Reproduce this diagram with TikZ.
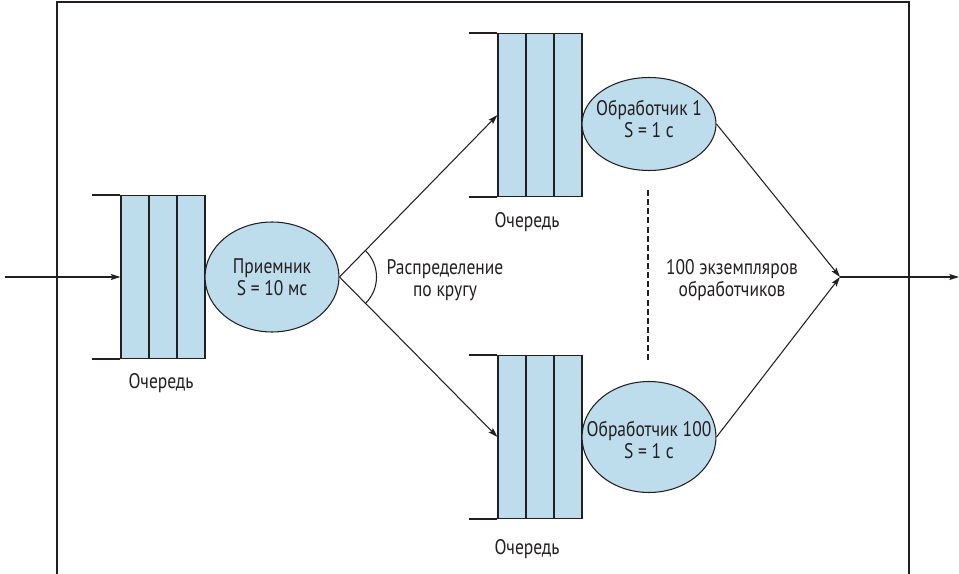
\documentclass[tikz,border=0pt]{standalone}
\usepackage{fontspec}
\setmainfont{PT Sans}[FakeStretch=0.83]
\usetikzlibrary{shapes.geometric,arrows.meta}
\definecolor{qblue}{RGB}{190,221,236}
\definecolor{ink}{RGB}{35,31,32}

\begin{document}
\begin{tikzpicture}[
    x=0.02cm, y=-0.02cm,
    color=ink, line width=0.6pt,
    cell/.style={rectangle, draw, fill=qblue, minimum width=0.56cm, minimum height=3.26cm, inner sep=0pt},
    worker/.style={ellipse, draw, fill=qblue, minimum width=2.68cm, inner sep=0pt},
    caption/.style={align=center, font=\fontsize{12}{12.8}\selectfont},
    arrow/.style={-{Stealth[length=5.5pt, width=3.4pt, inset=1pt]}}
]
\useasboundingbox (0,0) rectangle (959,574);

% Frame
\draw (57,574) |- (909,2) -- (909,574);

% Input queue and receiver
\node[cell] (q0a) at (135,277) {};
\node[cell] (q0b) at (163,277) {};
\node[cell] (q0c) at (191,277) {};
\draw (q0a.north west) -- ++(-28,0);
\draw (q0a.south west) -- ++(-28,0);
\node[caption] (q0lbl) at (161,383) {Очередь};

\node[worker, minimum height=2.2cm] (recv) at (272,277) {};
\node[caption] (recvtxt) at (recv) {Приемник\\S = 10 мс};

% Worker queues
\node[cell] (q1a) at (512,115) {};
\node[cell] (q1b) at (540,115) {};
\node[cell] (q1c) at (568,115) {};
\draw (q1a.north west) -- ++(-28,0);
\draw (q1a.south west) -- ++(-28,0);
\node[caption] (q1lbl) at (527,222) {Очередь};

\node[cell] (q2a) at (512,437) {};
\node[cell] (q2b) at (540,437) {};
\node[cell] (q2c) at (568,437) {};
\draw (q2a.north west) -- ++(-28,0);
\draw (q2a.south west) -- ++(-28,0);
\node[caption] (q2lbl) at (527,549) {Очередь};

% Workers
\node[worker, minimum height=1.86cm] (w1) at (649,124) {};
\node[caption] (w1txt) at (649,119) {Обработчик 1\\S = 1 с};
\node[worker, minimum height=2.22cm] (w100) at (649,437) {};
\node[caption] (w100txt) at (649,440) {Обработчик 100\\S = 1 с};

\draw[dash pattern=on 3.4pt off 1.8pt] (648,190) -- (648,363);
\node[caption] (count) at (732,280) {100 экземпляров\\обработчиков};

% Arrows
\coordinate (in) at (5,277);
\coordinate (join) at (840,277);
\coordinate (out) at (959,277);
\draw[arrow] (in) -- (q0a.west);
\draw[arrow] (recv.east) -- (q1a.west);
\draw[arrow] (recv.east) -- (q2a.west);
\draw ([shift={(45:0.74cm)}]recv.east) arc[start angle=45, end angle=-45, radius=0.74cm];
\node[caption] (rr) at (445,280) {Распределение\\по кругу};
\draw[arrow] (w1.east) -- (join);
\draw[arrow] (w100.east) -- (join);
\draw[arrow] (join) -- (out);
\end{tikzpicture}
\end{document}
